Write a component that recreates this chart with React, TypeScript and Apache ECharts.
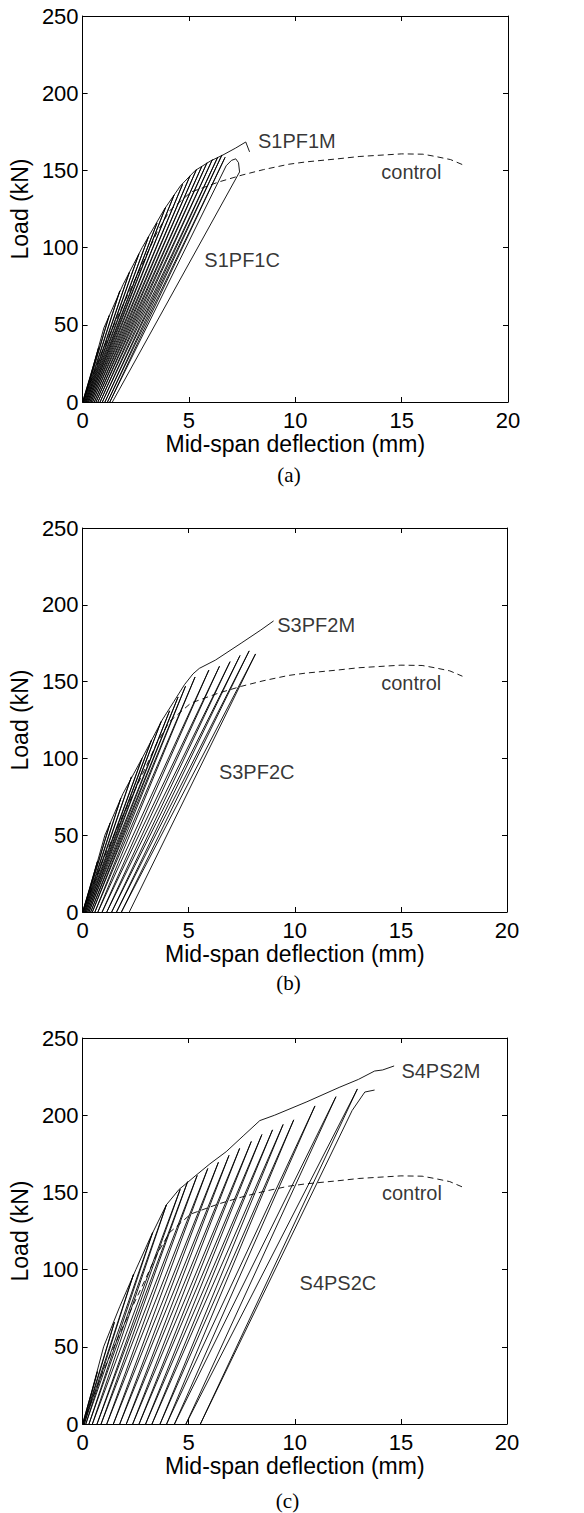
import React, { useEffect, useRef } from "react";
import * as echarts from "echarts";

// ---------- data ----------
const xTicks = [0, 5, 10, 15, 20];
const yTicks = [0, 50, 100, 150, 200, 250];

// control beam, same curve in all three panels (dashed)
const controlCurve: number[][] = [
  [0, 0], [0.9, 32], [1.8, 60], [2.9, 92], [3.5, 110], [4.1, 124], [5.1, 136],
  [6.4, 142.5], [7.5, 147], [8.5, 150.5], [9.7, 154], [10.5, 155.5], [12, 157.5],
  [13, 159], [15, 160.7], [16, 160.5], [16.6, 159], [17.3, 157], [17.9, 153.5],
];

// (a) S1PF1 monotonic
const s1pf1m: number[][] = [
  [0, 0], [0.4, 18], [1.0, 48], [1.9, 76], [2.8, 100], [3.85, 125], [4.6, 140],
  [5.3, 150], [6.0, 156], [6.6, 160], [7.2, 164.5], [7.67, 168.4], [7.85, 162],
];
// (a) S1PF1 cyclic: residual -> peak -> residual ...
const s1pf1c: number[][] = [
  [0, 0], [0.75, 35], [0.03, 0], [1.25, 56], [0.06, 0], [1.75, 72], [0.1, 0], [2.2, 84],
  [0.14, 0], [2.65, 96], [0.18, 0], [3.1, 107], [0.23, 0], [3.5, 116], [0.28, 0], [3.9, 126],
  [0.34, 0], [4.3, 134], [0.4, 0], [4.7, 141], [0.47, 0], [5.05, 146.5], [0.55, 0], [5.35, 150.5],
  [0.63, 0], [5.6, 152.5], [0.72, 0], [5.85, 155], [0.82, 0], [6.1, 157], [0.93, 0], [6.35, 158.5],
  [1.05, 0], [6.55, 160], [1.17, 0], [6.7, 158.5], [1.28, 0], [6.75, 153], [7.0, 156.5],
  [7.2, 157.5], [7.33, 155], [7.38, 149], [1.4, 0],
];

// (b) S3PF2 monotonic
const s3pf2m: number[][] = [
  [0, 0], [0.4, 18], [1.05, 50], [1.9, 77], [2.8, 100], [3.75, 125], [4.3, 137],
  [4.8, 148], [5.2, 155], [5.5, 158.6], [6.26, 164], [7.47, 175], [8.4, 183.6], [9.0, 189.5],
];
// (b) S3PF2 cyclic
const s3pf2c: number[][] = [
  [0, 0], [0.7, 33], [0.02, 0], [1.3, 58], [0.05, 0], [1.8, 74], [0.09, 0], [2.3, 88],
  [0.13, 0], [2.8, 100], [0.18, 0], [3.25, 112], [0.24, 0], [3.7, 124], [0.3, 0], [4.1, 131],
  [0.38, 0], [4.5, 140], [0.46, 0], [4.85, 147], [0.58, 0], [5.3, 153], [0.72, 0], [5.95, 157.5],
  [0.92, 0], [6.45, 160], [1.14, 0], [6.95, 163], [1.37, 0], [7.42, 167], [1.6, 0], [7.85, 170],
  [1.83, 0], [8.15, 168], [2.2, 0],
];

// (c) S4PS2 monotonic
const s4ps2m: number[][] = [
  [0, 0], [0.45, 22], [0.99, 50], [1.75, 76], [2.51, 100], [3.2, 121], [3.95, 142],
  [4.55, 152], [4.95, 156.5], [5.25, 160], [6.0, 168.5], [6.77, 176.4], [7.6, 187],
  [8.35, 196.5], [9.05, 200], [10.57, 208.7], [12.09, 218], [13.0, 223.2], [13.76, 228.6],
  [14.14, 229.3], [14.68, 231.9],
];
// (c) S4PS2 cyclic
const s4ps2c: number[][] = [
  [0, 0], [0.7, 34], [0.04, 0], [1.5, 66], [0.08, 0], [2.4, 97], [0.15, 0], [3.3, 124],
  [0.3, 0], [3.95, 142], [0.46, 0], [4.6, 152], [0.68, 0], [4.95, 157], [0.87, 0], [5.4, 161],
  [1.14, 0], [5.9, 165.5], [1.45, 0], [6.4, 169.5], [1.75, 0], [6.9, 174], [2.06, 0], [7.4, 178.5],
  [2.36, 0], [7.95, 183], [2.66, 0], [8.45, 187.5], [2.97, 0], [8.95, 190.5], [3.27, 0], [9.45, 194],
  [3.65, 0], [9.95, 197], [3.96, 0], [10.95, 206], [4.33, 0], [11.94, 212], [4.87, 0], [12.95, 217],
  [5.55, 0], [12.7, 203], [13.3, 215], [13.76, 216.3],
];

const curveLabelsA = ["S1PF1M", "control", "S1PF1C"];
const curveLabelsB = ["S3PF2M", "control", "S3PF2C"];
const curveLabelsC = ["S4PS2M", "control", "S4PS2C"];
// label anchor points (data coordinates, left edge / vertical middle)
const labelAnchorsA = [[8.22, 169], [14.02, 149], [5.7, 92]];
const labelAnchorsB = [[9.15, 187], [14.05, 149], [6.4, 91]];
const labelAnchorsC = [[15.0, 228.6], [14.08, 149.6], [10.2, 91.3]];

const captions = ["(a)", "(b)", "(c)"];
const xTitle = "Mid-span deflection (mm)";
const yTitle = "Load (kN)";

// ---------- layout ----------
const SANS = '"Liberation Sans", Arial, Helvetica, sans-serif';
const SERIF = '"Liberation Serif", "Times New Roman", serif';

const panels = [
  { grid: { left: 70, top: 16, width: 438, height: 386 }, mono: s1pf1m, cyc: s1pf1c, names: curveLabelsA, anchors: labelAnchorsA, captionY: 475 },
  { grid: { left: 70, top: 528, width: 437, height: 384 }, mono: s3pf2m, cyc: s3pf2c, names: curveLabelsB, anchors: labelAnchorsB, captionY: 983 },
  { grid: { left: 68, top: 1038, width: 439, height: 386 }, mono: s4ps2m, cyc: s4ps2c, names: curveLabelsC, anchors: labelAnchorsC, captionY: 1501 },
];

export default function App() {
  const ref = useRef<HTMLDivElement>(null);

  useEffect(() => {
    document.body.style.margin = "0";
    if (!ref.current) return;
    const chart = echarts.init(ref.current, null, { renderer: "svg" });

    const frameLine = { show: true, onZero: false, lineStyle: { color: "#000", width: 1 } };
    const tick = { show: true, inside: true, length: 5, lineStyle: { color: "#000", width: 1 } };

    const xAxis: any[] = [];
    const yAxis: any[] = [];
    const series: any[] = [];
    const graphic: any[] = [];

    panels.forEach((p, i) => {
      xAxis.push({
        type: "value", gridIndex: i, position: "bottom",
        min: xTicks[0], max: xTicks[xTicks.length - 1], interval: xTicks[1] - xTicks[0],
        axisLine: frameLine, axisTick: tick, splitLine: { show: false },
        axisLabel: { show: true, margin: 7, fontSize: 22, color: "#000", fontFamily: SANS },
        name: xTitle, nameLocation: "middle", nameGap: 30,
        nameTextStyle: { fontSize: 23, color: "#000", fontFamily: SANS },
      });
      xAxis.push({
        type: "value", gridIndex: i, position: "top",
        min: xTicks[0], max: xTicks[xTicks.length - 1], interval: xTicks[1] - xTicks[0],
        axisLine: frameLine, axisTick: tick, splitLine: { show: false }, axisLabel: { show: false },
      });
      yAxis.push({
        type: "value", gridIndex: i, position: "left",
        min: yTicks[0], max: yTicks[yTicks.length - 1], interval: yTicks[1] - yTicks[0],
        axisLine: frameLine, axisTick: tick, splitLine: { show: false },
        axisLabel: { show: true, margin: 4, fontSize: 22, color: "#000", fontFamily: SANS },
        name: yTitle, nameLocation: "middle", nameGap: 40,
        nameTextStyle: { fontSize: 23, color: "#000", fontFamily: SANS },
      });
      yAxis.push({
        type: "value", gridIndex: i, position: "right",
        min: yTicks[0], max: yTicks[yTicks.length - 1], interval: yTicks[1] - yTicks[0],
        axisLine: frameLine, axisTick: tick, splitLine: { show: false }, axisLabel: { show: false },
      });

      const ax = { xAxisIndex: 2 * i, yAxisIndex: 2 * i };
      series.push({
        type: "line", ...ax, data: controlCurve, showSymbol: false, symbol: "none",
        lineStyle: { color: "#000", width: 0.9, type: [6, 4] }, silent: true, z: 2,
      });
      series.push({
        type: "line", ...ax, data: p.cyc, showSymbol: false, symbol: "none",
        lineStyle: { color: "#000", width: 0.9 }, silent: true, z: 3,
      });
      series.push({
        type: "line", ...ax, data: p.mono, showSymbol: false, symbol: "none",
        lineStyle: { color: "#000", width: 0.9 }, silent: true, z: 3,
      });
      series.push({
        type: "scatter", ...ax, symbolSize: 1, silent: true, z: 5,
        itemStyle: { color: "rgba(0,0,0,0)" },
        data: p.names.map((n, k) => ({ name: n, value: p.anchors[k] })),
        label: {
          show: true, position: "right", distance: 0, formatter: "{b}",
          fontSize: 20, color: "#000", fontFamily: SANS,
        },
      });

      graphic.push({
        type: "text", x: p.grid.left + p.grid.width / 2, y: p.captionY,
        style: {
          text: captions[i], fill: "#000", fontSize: 21, fontFamily: SERIF,
          align: "center", verticalAlign: "middle", textAlign: "center", textVerticalAlign: "middle",
        },
      });
    });

    chart.setOption({
      animation: false,
      backgroundColor: "#fff",
      grid: panels.map((p) => ({ ...p.grid, containLabel: false })),
      xAxis,
      yAxis,
      series,
      graphic,
    });

    return () => chart.dispose();
  }, []);

  return <div ref={ref} style={{ width: 584, height: 1513 }} />;
}
